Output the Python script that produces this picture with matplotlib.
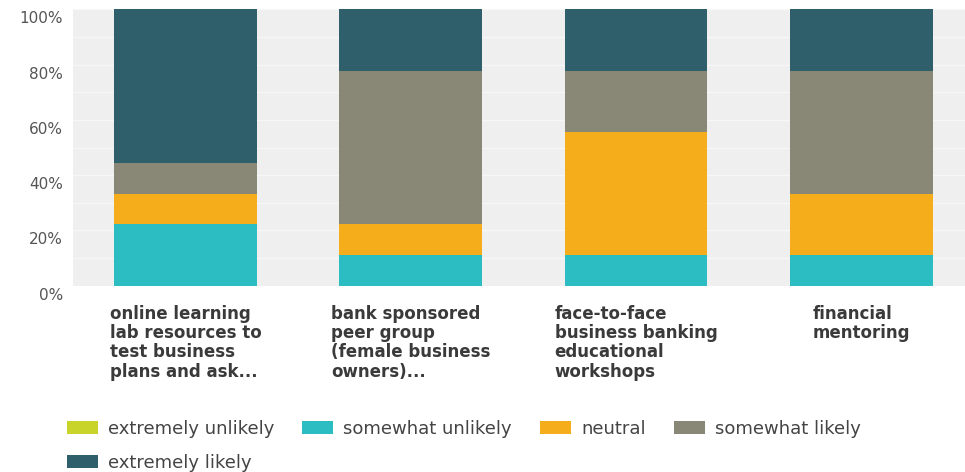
import matplotlib
matplotlib.use("Agg")
import matplotlib.pyplot as plt
from matplotlib.transforms import ScaledTranslation
from matplotlib.patches import Patch
import numpy as np

# Survey responses (% of respondents) per resource
categories = [
    "online learning\nlab resources to\ntest business\nplans and ask...",
    "bank sponsored\npeer group\n(female business\nowners)...",
    "face-to-face\nbusiness banking\neducational\nworkshops",
    "financial\nmentoring",
]
responses = ["extremely unlikely", "somewhat unlikely", "neutral",
             "somewhat likely", "extremely likely"]
extremely_unlikely = [0.0, 0.0, 0.0, 0.0]
somewhat_unlikely = [22.2, 11.1, 11.1, 11.1]
neutral = [11.1, 11.1, 44.5, 22.2]
somewhat_likely = [11.1, 55.6, 22.2, 44.5]
extremely_likely = [55.6, 22.2, 22.2, 22.2]
y_ticks = [0, 20, 40, 60, 80, 100]

series = [extremely_unlikely, somewhat_unlikely, neutral,
          somewhat_likely, extremely_likely]
colors = ["#c8d42a", "#2bbdc2", "#f6ad1c", "#898775", "#2e5f6b"]

W, H = 965, 472
fig = plt.figure(figsize=(W / 100, H / 100), dpi=100)
plt.rcParams["font.family"] = ["DejaVu Sans"]

# plot area spans past the right edge of the canvas
left_px, right_px = 72.75, 974.0
bottom_px, top_px = 285.7, 9.3
ax = fig.add_axes([left_px / W, 1 - bottom_px / H,
                   (right_px - left_px) / W, (bottom_px - top_px) / H])
ax.set_facecolor("#efefef")

x = np.arange(len(categories))
bottom = np.zeros(len(categories))
for vals, col in zip(series, colors):
    ax.bar(x, vals, width=0.634, bottom=bottom, color=col,
           linewidth=0, zorder=3)
    bottom += np.array(vals)

ax.set_xlim(-0.5, len(categories) - 0.5)
ax.set_ylim(0, 100)
ax.set_yticks(y_ticks)
ax.set_yticklabels([f"{v}%" for v in y_ticks])
ax.set_yticks(np.arange(10, 100, 20), minor=True)
ax.grid(axis="y", which="both", color="white", linewidth=1.0, alpha=0.5,
        zorder=1)
ax.tick_params(axis="y", which="both", length=0, pad=7,
               labelsize=11, labelcolor="#555555")
for lab in ax.get_yticklabels():
    lab.set_transform(lab.get_transform() +
                      ScaledTranslation(0, -8 / 100, fig.dpi_scale_trans))

ax.set_xticks(x)
ax.set_xticklabels(categories, fontsize=12, fontweight="bold",
                   color="#3a3a3a", linespacing=1.08,
                   multialignment="left")
ax.tick_params(axis="x", length=0, pad=14)

for s in ax.spines.values():
    s.set_visible(False)

# legend laid out row by row: first column holds items 0 and 4
handles = [Patch(facecolor=c, edgecolor="none") for c in colors]
order = [0, 4, 1, 2, 3]
fig.legend([handles[i] for i in order], [responses[i] for i in order],
           ncol=4, loc="upper left",
           bbox_to_anchor=(67 / W, 1 - 420 / H),
           frameon=False, fontsize=13, labelcolor="#444444",
           handlelength=1.72, handleheight=0.75, handletextpad=0.55,
           columnspacing=1.55, labelspacing=0.89,
           borderpad=0, borderaxespad=0)

fig.savefig("out.png", dpi=100)
